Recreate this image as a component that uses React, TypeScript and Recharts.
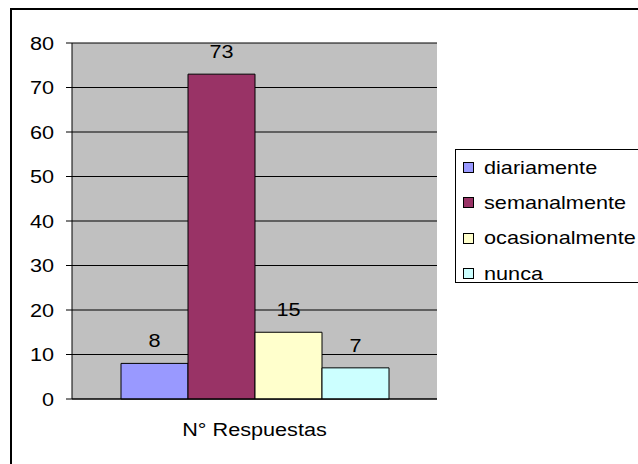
import { BarChart, Bar, XAxis, YAxis, CartesianGrid, LabelList } from "recharts";

const category = "N° Respuestas";
const seriesNames = ["diariamente", "semanalmente", "ocasionalmente", "nunca"];
const seriesValues = [8, 73, 15, 7];
const seriesColors = ["#9999FF", "#993366", "#FFFFCC", "#CCFFFF"];
const yTicks = [0, 10, 20, 30, 40, 50, 60, 70, 80];

const row: Record<string, string | number> = { name: category };
seriesNames.forEach((n, i) => {
    row[n] = seriesValues[i];
});
const data = [row];

// the original is stretched sideways, so the text is widened a bit
const SX = 1.14;
const FONT = "'Liberation Sans', Arial, sans-serif";
const FS = 19;

function WideText({ x, y, anchor, dy, value }: any) {
    return (
        <g transform={`translate(${x},${y}) scale(${SX},1)`}>
            <text x={0} y={0} dy={dy} textAnchor={anchor} fontFamily={FONT} fontSize={FS} fill="#000">
                {value}
            </text>
        </g>
    );
}

const yTick = (p: any) => <WideText x={p.x} y={p.y} anchor="end" dy="0.355em" value={p.payload.value} />;
const xTick = (p: any) => <WideText x={p.x} y={p.y} anchor="middle" dy="0.71em" value={p.payload.value} />;
const barLabel = (p: any) => (
    <WideText
        x={Number(p.x) + Number(p.width) / 2}
        y={Number(p.y) - 16}
        anchor="middle"
        dy={0}
        value={p.value}
    />
);

export default function App() {
    return (
        <div style={pageStyle}>
            <div style={frameStyle} />
            <div style={{ position: "absolute", left: 0, top: 0 }}>
                <BarChart
                    width={638}
                    height={464}
                    data={data}
                    margin={{ top: 43, left: 12, right: 201, bottom: 35 }}
                    barCategoryGap={49}
                    barGap={0}
                >
                    <CartesianGrid vertical={false} fill="#C0C0C0" stroke="#000" strokeOpacity={1} />
                    <XAxis
                        xAxisId="edge"
                        type="number"
                        domain={[0, 1]}
                        ticks={[0, 1]}
                        tick={false}
                        axisLine={false}
                        tickSize={6}
                        tickLine={{ stroke: "#000" }}
                        height={0}
                    />
                    <XAxis
                        dataKey="name"
                        tickLine={false}
                        axisLine={{ stroke: "#000" }}
                        tickSize={6}
                        tickMargin={18}
                        tick={xTick}
                        height={30}
                    />
                    <YAxis
                        domain={[0, 80]}
                        ticks={yTicks}
                        interval={0}
                        width={60}
                        tickSize={6}
                        tickMargin={12}
                        axisLine={{ stroke: "#000" }}
                        tickLine={{ stroke: "#000" }}
                        tick={yTick}
                    />
                    <YAxis
                        yAxisId="frame"
                        orientation="right"
                        domain={[0, 80]}
                        width={0}
                        tick={false}
                        tickLine={false}
                        axisLine={{ stroke: "#808080" }}
                    />
                    {seriesNames.map((n, i) => (
                        <Bar
                            key={n}
                            dataKey={n}
                            fill={seriesColors[i]}
                            stroke="#000"
                            strokeWidth={1}
                            isAnimationActive={false}
                        >
                            <LabelList dataKey={n} content={barLabel} />
                        </Bar>
                    ))}
                </BarChart>
            </div>
            <div style={legendStyle}>
                {seriesNames.map((n, i) => (
                    <div key={n} style={legendRow}>
                        <span
                            style={{
                                display: "inline-block",
                                width: 9,
                                height: 9,
                                background: seriesColors[i],
                                border: "1px solid #000",
                                marginLeft: 7,
                                marginRight: 10,
                                flexShrink: 0,
                            }}
                        />
                        <span style={{ display: "inline-block", transform: `scaleX(${SX})`, transformOrigin: "left center" }}>
                            {n}
                        </span>
                    </div>
                ))}
            </div>
        </div>
    );
}

const pageStyle: React.CSSProperties = {
    position: "absolute",
    left: 0,
    top: 0,
    width: 638,
    height: 464,
    overflow: "hidden",
    background: "#fff",
};

const frameStyle: React.CSSProperties = {
    position: "absolute",
    left: 10,
    top: 8,
    width: 700,
    height: 520,
    border: "2px solid #000",
};

const legendStyle: React.CSSProperties = {
    position: "absolute",
    left: 455,
    top: 149,
    width: 220,
    height: 132,
    border: "1px solid #000",
    background: "#fff",
    fontFamily: FONT,
    fontSize: FS,
    color: "#000",
    whiteSpace: "nowrap",
};

const legendRow: React.CSSProperties = {
    display: "flex",
    alignItems: "center",
    height: 35.3,
};
